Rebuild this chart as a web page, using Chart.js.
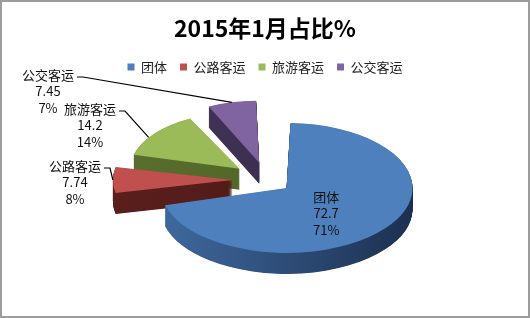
<!DOCTYPE html>
<html>
<head>
<meta charset="utf-8">
<script src="https://cdn.jsdelivr.net/npm/chart.js@4.4.1/dist/chart.umd.min.js"></script>
<style>
  html, body { margin: 0; padding: 0; background: #fff; }
  #wrap { position: relative; width: 530px; height: 318px; }
  #frame { position: absolute; left: 0; top: 0; width: 526px; height: 314px; border: 2px solid #9c9c9c; pointer-events: none; }
</style>
</head>
<body>
<div id="wrap">
  <canvas id="c" width="530" height="318"></canvas>
  <div id="frame"></div>
</div>
<script>
// data
const categories = ['团体', '公路客运', '旅游客运', '公交客运'];
const values = [72.7, 7.74, 14.2, 7.45];
const valueLabels = ['72.7', '7.74', '14.2', '7.45'];
const percentLabels = ['71%', '8%', '14%', '7%'];

// styles
const FONT = '"Noto Sans CJK SC", "Noto Sans", sans-serif';
const topColors = ['#4d80bd', '#c0504d', '#9bbb59', '#8064a2'];
const sideColors = [['#3f699e', '#1c3050'], ['#5a1f1d', '#4a1816'], ['#5a702e', '#4a5e24'], ['#44365a', '#342846']];
const explode = [68, 94, 96, 94];

// where the flattened pie sits on the page
const PIE = { cx: 267, cy: 180, rx: 126, ry: 65, depth: 21 };

// geometry that ArcElement.draw uses for "offset": shift + bigger radius
function arcGeom(arc) {
    const off = (arc.options.offset || 0) / 4;
    const half = (arc.startAngle + arc.endAngle) / 2;
    const fix = 1 - Math.sin(Math.min(Math.PI, arc.circumference || 0));
    return { dx: Math.cos(half) * off, dy: Math.sin(half) * off, r: arc.outerRadius + off * fix };
}

function baseRadius(chart) {
    return arcGeom(chart.getDatasetMeta(0).data[0]).r;
}

// point on a slice (fraction along its angle, fraction of radius) -> page coords
function slicePoint(chart, arc, f, rf) {
    const g = arcGeom(arc);
    const Rb = baseRadius(chart);
    const ang = arc.startAngle + (arc.endAngle - arc.startAngle) * f;
    const ux = g.dx + g.r * rf * Math.cos(ang);
    const uy = g.dy + g.r * rf * Math.sin(ang);
    return { x: PIE.cx + ux * PIE.rx / Rb, y: PIE.cy + uy * PIE.ry / Rb };
}

const pie3d = {
    id: 'pie3d',
    beforeDatasetsDraw(chart) {
        const ctx = chart.ctx;
        const arcs = chart.getDatasetMeta(0).data;
        const a0 = arcs[0];
        const Rb = baseRadius(chart);
        const sy = PIE.ry / Rb;
        ctx.save();
        ctx.translate(PIE.cx, PIE.cy);
        ctx.scale(PIE.rx / Rb, sy);
        ctx.translate(-a0.x, -a0.y);

        // side walls: the same slices redrawn lower in a dark colour, back to front
        for (let i = arcs.length - 1; i >= 0; i--) {
            const arc = arcs[i];
            const g = ctx.createLinearGradient(a0.x - Rb, 0, a0.x + Rb, 0);
            g.addColorStop(0, sideColors[i][0]);
            g.addColorStop(1, sideColors[i][1]);
            const saved = arc.options;
            arc.options = Object.assign({}, saved, { backgroundColor: g, borderWidth: 0 });
            for (let t = PIE.depth; t > 0; t -= 0.5) {
                ctx.save();
                ctx.translate(0, t / sy);
                arc.draw(ctx);
                ctx.restore();
            }
            arc.options = saved;
        }
    },
    afterDatasetsDraw(chart) {
        chart.ctx.restore();
    },
    afterDraw(chart) {
        const ctx = chart.ctx;
        const arcs = chart.getDatasetMeta(0).data;
        ctx.save();
        ctx.font = '13px ' + FONT;
        ctx.fillStyle = '#111';
        ctx.textAlign = 'center';
        ctx.textBaseline = 'middle';

        // 团体 inside the big slice
        const c0 = slicePoint(chart, arcs[0], 0.5, 0.4);
        ctx.fillText(categories[0], c0.x, c0.y - 7);
        ctx.fillText(valueLabels[0], c0.x, c0.y + 9.5);
        ctx.fillText(percentLabels[0], c0.x, c0.y + 26);

        // outside labels with leader lines
        const outside = [
            { i: 1, x: 75, y: 166, f: 0.5 },
            { i: 2, x: 90, y: 109, f: 0.4 },
            { i: 3, x: 48, y: 75, f: 0.5 }
        ];
        ctx.strokeStyle = '#000';
        ctx.lineWidth = 1.2;
        outside.forEach(o => {
            const name = categories[o.i];
            ctx.fillText(name, o.x, o.y);
            ctx.fillText(valueLabels[o.i], o.x, o.y + 16.5);
            ctx.fillText(percentLabels[o.i], o.x, o.y + 33);
            const w = ctx.measureText(name).width;
            const p = slicePoint(chart, arcs[o.i], o.f, 1);
            const lx = o.x + w / 2 + 3, ly = o.y + 2;
            ctx.beginPath();
            ctx.moveTo(lx, ly);
            ctx.lineTo(lx + 6, ly);
            ctx.lineTo(p.x, p.y);
            ctx.stroke();
        });
        ctx.restore();
    }
};

new Chart(document.getElementById('c'), {
    type: 'pie',
    data: {
        labels: categories,
        datasets: [{
            data: values,
            backgroundColor: topColors,
            borderWidth: 0,
            offset: explode,
            hoverOffset: 0,
            clip: false
        }]
    },
    options: {
        responsive: false,
        animation: false,
        events: [],
        layout: { padding: 0 },
        plugins: {
            title: {
                display: true,
                text: '2015年1月占比%',
                color: '#000',
                font: { family: FONT, size: 23, weight: 'bold' },
                padding: { top: 14, bottom: 6 }
            },
            legend: {
                position: 'top',
                labels: {
                    boxWidth: 7,
                    boxHeight: 7,
                    padding: 13,
                    color: '#222',
                    font: { family: FONT, size: 13 }
                }
            },
            tooltip: { enabled: false }
        }
    },
    plugins: [pie3d]
});
</script>
</body>
</html>
